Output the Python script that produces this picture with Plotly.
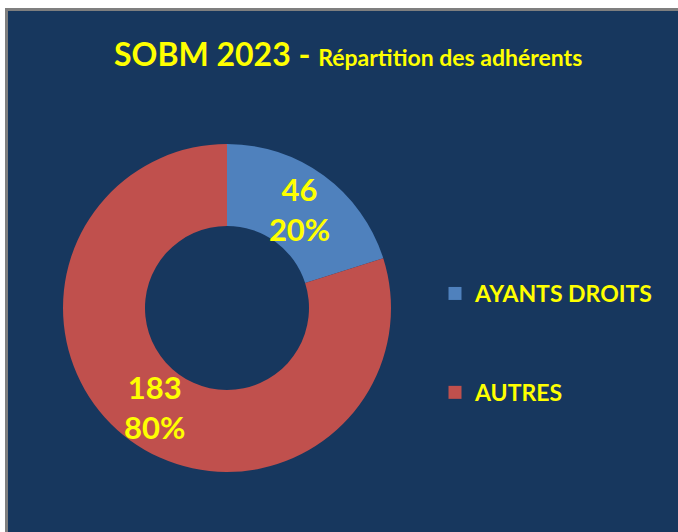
import math
import plotly.graph_objects as go

labels = ["AYANTS DROITS", "AUTRES"]
values = [46, 183]
colors = ["#4F81BD", "#C0504D"]

title_main = "SOBM 2023 - "
title_sub = "Répartition des adhérents"

W, H = 678, 532
NAVY = "#17375E"
YELLOW = "#FFFF00"
FONT = "Lato"
HOLE = 0.5

# pie placement (pixels from top-left)
PX0, PX1, PY0, PY1 = 63, 391, 144, 472

total = sum(values)
label_text = ["<b>%d<br>%d%%</b>" % (v, round(100 * v / total)) for v in values]

fig = go.Figure()

fig.add_trace(go.Pie(
    labels=labels,
    values=values,
    marker=dict(colors=colors, line=dict(width=0)),
    hole=HOLE,
    sort=False,
    direction="clockwise",
    rotation=0,
    texttemplate=["<b>%{value}<br>%{percent:.0%}</b>", ""],
    textposition="inside",
    insidetextorientation="horizontal",
    textfont=dict(family=FONT, size=31, color=YELLOW),
    showlegend=False,
    domain=dict(x=[PX0 / W, PX1 / W], y=[(H - PY1) / H, (H - PY0) / H]),
    hoverinfo="label+value+percent",
))

# label of the large slice placed at its mid-angle, in the middle of the ring
cx, cy = (PX0 + PX1) / 2, (PY0 + PY1) / 2
R = (PX1 - PX0) / 2
r_mid = R * (1 + HOLE) / 2
cum = values[0]
theta = 2 * math.pi * (cum + values[1] / 2) / total
lx = cx + r_mid * math.sin(theta)
ly = cy - r_mid * math.cos(theta)

annotations = [
    dict(
        xref="paper", yref="paper",
        x=347.5 / W, y=1 - 54 / H, xanchor="center", yanchor="middle",
        showarrow=False,
        text=f"<b>{title_main}</b><b><span style='font-size:23px'>{title_sub}</span></b>",
        font=dict(family=FONT, size=32, color=YELLOW),
    ),
    dict(
        xref="paper", yref="paper",
        x=lx / W, y=1 - ly / H, xanchor="center", yanchor="middle",
        showarrow=False, text=label_text[1],
        font=dict(family=FONT, size=31, color=YELLOW),
    ),
]

# legend entries (one per category)
for lab, col in zip(labels, colors):
    fig.add_trace(go.Scatter(
        x=[None], y=[None], mode="markers", name="<b>" + lab + "</b>",
        legendgroup=lab,
        marker=dict(symbol="square", size=13, color=col, line=dict(width=0)),
        showlegend=True,
    ))

fig.update_layout(
    width=W, height=H,
    margin=dict(l=0, r=0, t=0, b=0),
    paper_bgcolor="white",
    plot_bgcolor="rgba(0,0,0,0)",
    xaxis=dict(visible=False),
    yaxis=dict(visible=False),
    showlegend=True,
    uniformtext=dict(minsize=31, mode="show"),
    legend=dict(
        x=435 / W, xanchor="left",
        y=1 - 272 / H, yanchor="top",
        bgcolor="rgba(0,0,0,0)",
        font=dict(family=FONT, size=23, color=YELLOW),
        traceorder="grouped",
        tracegroupgap=66,
        itemwidth=30,
    ),
    shapes=[dict(
        type="rect", xref="paper", yref="paper",
        x0=6.5 / W, x1=1.05, y0=-0.05, y1=1 - 9.5 / H,
        fillcolor=NAVY, line=dict(color="#7F7F7F", width=3),
        layer="below",
    )],
    annotations=annotations,
)

fig.write_html(
    "out.html",
    config={"displayModeBar": False},
    post_script="document.body.style.margin='0';document.body.style.overflow='hidden';",
)
